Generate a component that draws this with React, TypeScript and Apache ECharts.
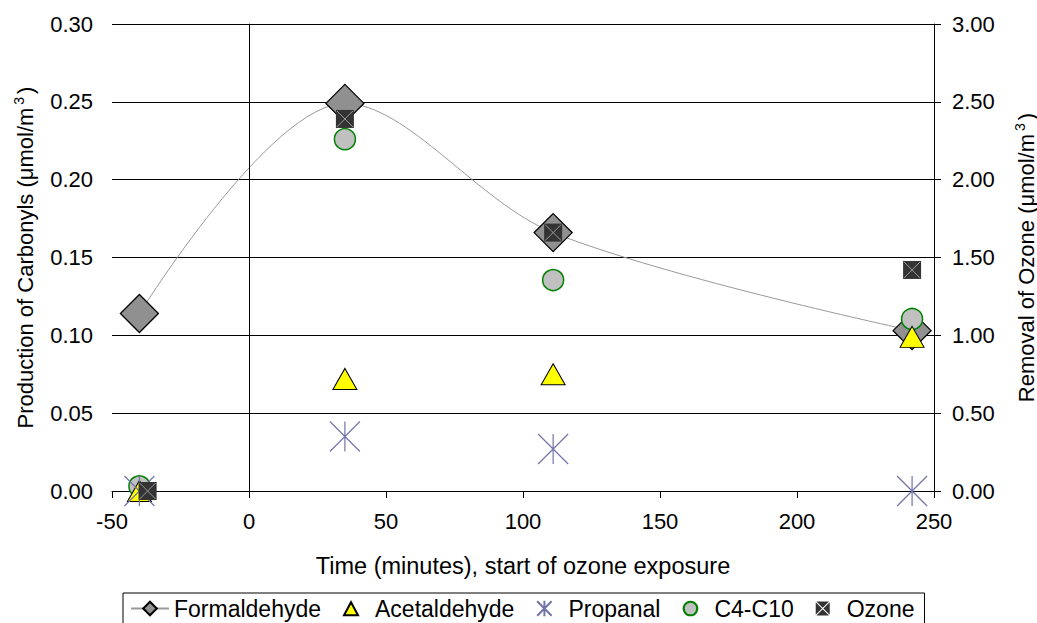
import React, { useEffect, useRef } from "react";
import * as echarts from "echarts";

const times = [-40, 35, 111, 242];
const ozoneTimes = [-37, 35, 111, 242];
const formaldehyde = [0.114, 0.249, 0.166, 0.103];
const acetaldehyde = [0, 0.072, 0.075, 0.099];
const propanal = [0, 0.035, 0.027, 0];
const c4c10 = [0.003, 0.226, 0.1355, 0.1105];
const ozone = [0, 2.39, 1.66, 1.42];
const seriesNames = ["Formaldehyde", "Acetaldehyde", "Propanal", "C4-C10", "Ozone"];

const FONT = "'Liberation Sans', Arial, sans-serif";
const ASTERISK = "path://M0,0L100,100M100,0L0,100M50,0L50,100";
const XMARK = "path://M0,0L100,100M100,0L0,100";
// legend icons drawn inside a 380x170 frame (ratio of itemWidth:itemHeight)
const FRAME = "M0,0M380,170";
const TRI_ICON = "path://" + FRAME + "M190,22L260,152L120,152Z";
const AST_ICON = "path://" + FRAME + "M118,13L262,157M262,13L118,157M190,8L190,162";
const CIRC_ICON = "path://" + FRAME + "M190,17A68,68 0 1 1 189.9,17Z";
const OZONE_ICON =
  "path://" +
  FRAME +
  "M127,15L253,15L190,78ZM260,22L260,148L197,85ZM253,155L127,155L190,92ZM120,148L120,22L183,85Z";

function pairs(xs: number[], ys: number[]) {
  return xs.map((x, i) => [x, ys[i]]);
}

export default function App() {
  const ref = useRef<HTMLDivElement>(null);
  useEffect(() => {
    if (!ref.current) return;
    const chart = echarts.init(ref.current, null, { renderer: "svg" });
    const axisLabel = { fontFamily: FONT, fontSize: 22, color: "#000" };
    const supRich = { sup: { fontFamily: FONT, fontSize: 14, color: "#000", verticalAlign: "top", lineHeight: 26, padding: [0, 3, 0, 3] } };
    chart.setOption({
      animation: false,
      textStyle: { fontFamily: FONT },
      grid: { left: 112, right: 103, top: 24, bottom: 132, containLabel: false, outerBoundsMode: "none" },
      xAxis: {
        type: "value",
        min: -50,
        max: 250,
        interval: 50,
        axisLine: { lineStyle: { color: "#000", width: 1 } },
        axisTick: { show: true, inside: false, length: 7, lineStyle: { color: "#000" } },
        splitLine: { show: false },
        axisLabel: { ...axisLabel, margin: 19 },
        name: "Time (minutes), start of ozone exposure",
        nameLocation: "middle",
        nameGap: 63,
        nameTextStyle: { fontFamily: FONT, fontSize: 23.5, color: "#000" },
      },
      yAxis: [
        {
          type: "value",
          min: 0,
          max: 0.3,
          interval: 0.05,
          axisLine: { show: true, lineStyle: { color: "#000", width: 1 } },
          axisTick: { show: true, inside: false, length: 7, lineStyle: { color: "#000" } },
          splitLine: { show: true, lineStyle: { color: "#000", width: 1 } },
          axisLabel: { ...axisLabel, margin: 19, formatter: (v: number) => v.toFixed(2) },
          name: "Production of Carbonyls (μmol/m{sup|3})",
          nameLocation: "middle",
          nameRotate: 90,
          nameGap: 74,
          nameTextStyle: { fontFamily: FONT, fontSize: 22, color: "#000", rich: supRich },
        },
        {
          type: "value",
          min: 0,
          max: 3,
          interval: 0.5,
          position: "right",
          axisLine: { show: true, lineStyle: { color: "#000", width: 1 } },
          axisTick: { show: true, inside: false, length: 7, lineStyle: { color: "#000" } },
          splitLine: { show: false },
          axisLabel: { ...axisLabel, margin: 18, formatter: (v: number) => v.toFixed(2) },
          name: "Removal of Ozone (μmol/m{sup|3})",
          nameLocation: "middle",
          nameRotate: 90,
          nameGap: 79,
          nameTextStyle: { fontFamily: FONT, fontSize: 22, color: "#000", rich: supRich },
        },
      ],
      legend: {
        left: 123,
        top: 593,
        data: [
          { name: "Formaldehyde" },
          { name: "Acetaldehyde", icon: TRI_ICON },
          { name: "Propanal", icon: AST_ICON },
          { name: "C4-C10", icon: CIRC_ICON },
          { name: "Ozone", icon: OZONE_ICON, itemStyle: { color: "#333", borderWidth: 0 } },
        ],
        itemWidth: 38,
        itemHeight: 17,
        itemGap: 10,
        borderColor: "#000",
        borderWidth: 1,
        padding: [4, 10, 14, 7],
        textStyle: { fontFamily: FONT, fontSize: 23, color: "#000" },
      },
      series: [
        {
          name: seriesNames[0],
          type: "line",
          data: pairs(times, formaldehyde),
          smooth: 0.33,
          symbol: "diamond",
          symbolSize: 38,
          lineStyle: { color: "#999", width: 1 },
          itemStyle: { color: "#909090", borderColor: "#000", borderWidth: 1.3 },
          z: 2,
          markLine: {
            silent: true,
            symbol: "none",
            label: { show: false },
            lineStyle: { color: "#000", width: 1, type: "solid" },
            data: [{ xAxis: 0 }],
          },
        },
        {
          name: seriesNames[3],
          type: "scatter",
          data: pairs(times, c4c10),
          symbol: "circle",
          symbolSize: 21,
          clip: false,
          itemStyle: { color: "#c0c0c0", borderColor: "#008000", borderWidth: 1.5, opacity: 1 },
          z: 3,
        },
        {
          name: seriesNames[1],
          type: "scatter",
          data: pairs(times, acetaldehyde),
          symbol: "triangle",
          symbolSize: [24, 21],
          clip: false,
          itemStyle: { color: "#ffff00", borderColor: "#000", borderWidth: 1, opacity: 1 },
          z: 4,
        },
        {
          name: seriesNames[2],
          type: "scatter",
          data: pairs(times, propanal),
          symbol: ASTERISK,
          symbolSize: 30,
          clip: false,
          itemStyle: { color: "transparent", borderColor: "#7373ab", borderWidth: 1.2, opacity: 1 },
          z: 5,
        },
        {
          name: seriesNames[4],
          type: "scatter",
          yAxisIndex: 1,
          data: pairs(ozoneTimes, ozone),
          symbol: "rect",
          symbolSize: 18,
          clip: false,
          itemStyle: { color: "#333333", borderWidth: 0, opacity: 1 },
          z: 6,
        },
        {
          name: "OzoneX",
          type: "scatter",
          yAxisIndex: 1,
          data: pairs(ozoneTimes, ozone),
          symbol: XMARK,
          symbolSize: 16,
          clip: false,
          silent: true,
          itemStyle: { color: "transparent", borderColor: "#999", borderWidth: 1, opacity: 1 },
          z: 7,
        },
      ],
    });
    return () => chart.dispose();
  }, []);
  return (
    <div
      ref={ref}
      style={{ position: "fixed", left: 0, top: 0, width: 1037, height: 623, background: "#fff" }}
    />
  );
}
